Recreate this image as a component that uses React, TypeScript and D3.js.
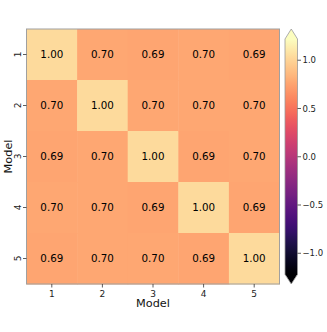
import { useEffect, useRef } from "react";
import * as d3 from "d3";

const models = ["1", "2", "3", "4", "5"];
const row1 = [1.0, 0.7, 0.69, 0.7, 0.69];
const row2 = [0.7, 1.0, 0.7, 0.7, 0.7];
const row3 = [0.69, 0.7, 1.0, 0.69, 0.7];
const row4 = [0.7, 0.7, 0.69, 1.0, 0.69];
const row5 = [0.69, 0.7, 0.7, 0.69, 1.0];
const rows = [row1, row2, row3, row4, row5];
const cbTicks = [-1.0, -0.5, 0.0, 0.5, 1.0];
const vmin = -1.22;
const vmax = 1.22;

const W = 327;
const H = 332;
const FONT = "DejaVu Sans, sans-serif";

const App = () => {
    const ref = useRef<SVGSVGElement>(null);

    useEffect(() => {
        const svg = d3.select(ref.current);
        svg.selectAll("*").remove();

        const left = 26.5, right = 279.5, top = 29, bottom = 284;
        const x = d3.scaleBand().domain(models).range([left, right]);
        const y = d3.scaleBand().domain(models).range([top, bottom]);
        // cells come out a touch lighter than the bar in the reference
        const color = d3.scaleSequential(d3.interpolateMagma).domain([-1.55, 1.21]);
        const fmt = d3.format(".2f");

        const g = svg.append("g");
        rows.forEach((r, i) => {
            r.forEach((v, j) => {
                g.append("rect")
                    .attr("x", x(models[j])!)
                    .attr("y", y(models[i])!)
                    .attr("width", x.bandwidth() + 0.5)
                    .attr("height", y.bandwidth() + 0.5)
                    .attr("fill", color(v));
                g.append("text")
                    .attr("x", x(models[j])! + x.bandwidth() / 2)
                    .attr("y", y(models[i])! + y.bandwidth() / 2)
                    .attr("dy", "0.36em")
                    .attr("text-anchor", "middle")
                    .attr("font-family", FONT)
                    .attr("font-size", 10.3)
                    .attr("fill", "black")
                    .text(fmt(v));
            });
        });
        svg.append("rect")
            .attr("x", left).attr("y", top)
            .attr("width", right - left).attr("height", bottom - top)
            .attr("fill", "none").attr("stroke", "#a0a0a0").attr("stroke-width", 1);

        // x axis
        models.forEach(m => {
            const cx = x(m)! + x.bandwidth() / 2;
            svg.append("line").attr("x1", cx).attr("x2", cx).attr("y1", bottom).attr("y2", bottom + 3.5)
                .attr("stroke", "#333").attr("stroke-width", 0.8);
            svg.append("text").attr("x", cx).attr("y", bottom + 12.5)
                .attr("text-anchor", "middle").attr("font-family", FONT).attr("font-size", 9)
                .attr("fill", "#222").text(m);
            const cy = y(m)! + y.bandwidth() / 2;
            svg.append("line").attr("x1", left - 3.5).attr("x2", left).attr("y1", cy).attr("y2", cy)
                .attr("stroke", "#333").attr("stroke-width", 0.8);
            svg.append("text").attr("transform", `translate(${left - 5.5},${cy}) rotate(-90)`)
                .attr("text-anchor", "middle").attr("font-family", FONT).attr("font-size", 9)
                .attr("fill", "#222").text(m);
        });
        svg.append("text").attr("x", (left + right) / 2).attr("y", bottom + 23)
            .attr("text-anchor", "middle").attr("font-family", FONT).attr("font-size", 11.3)
            .attr("fill", "#111").text("Model");
        svg.append("text").attr("transform", `translate(12,${(top + bottom) / 2}) rotate(-90)`)
            .attr("text-anchor", "middle").attr("font-family", FONT).attr("font-size", 11.3)
            .attr("fill", "#111").text("Model");

        // colorbar
        const cbL = 285, cbR = 297.5, cbTop = 39, cbBot = 274.5;
        const cy = d3.scaleLinear().domain([vmin, vmax]).range([cbBot, cbTop]);
        const defs = svg.append("defs");
        const grad = defs.append("linearGradient").attr("id", "cbgrad")
            .attr("x1", 0).attr("y1", 1).attr("x2", 0).attr("y2", 0);
        d3.range(0, 1.0001, 0.02).forEach(t => {
            grad.append("stop").attr("offset", t).attr("stop-color", d3.interpolateMagma(t));
        });
        const midX = (cbL + cbR) / 2;
        svg.append("rect").attr("x", cbL).attr("y", cbTop).attr("width", cbR - cbL)
            .attr("height", cbBot - cbTop).attr("fill", "url(#cbgrad)");
        svg.append("path").attr("d", `M${cbL},${cbTop + 0.5}L${midX},${top}L${cbR},${cbTop + 0.5}Z`)
            .attr("fill", d3.interpolateMagma(1));
        svg.append("path").attr("d", `M${cbL},${cbBot - 0.5}L${midX},${bottom}L${cbR},${cbBot - 0.5}Z`)
            .attr("fill", d3.interpolateMagma(0));
        svg.append("path")
            .attr("d", `M${cbL},${cbTop}L${midX},${top}L${cbR},${cbTop}L${cbR},${cbBot}L${midX},${bottom}L${cbL},${cbBot}Z`)
            .attr("fill", "none").attr("stroke", "#999").attr("stroke-width", 0.8);
        const tf = (v: number) => d3.format(".1f")(v).replace("-", "\u2212");
        cbTicks.forEach(v => {
            svg.append("line").attr("x1", cbR).attr("x2", cbR + 3.5).attr("y1", cy(v)).attr("y2", cy(v))
                .attr("stroke", "#333").attr("stroke-width", 0.8);
            svg.append("text").attr("x", cbR + 5).attr("y", cy(v)).attr("dy", "0.36em")
                .attr("font-family", FONT).attr("font-size", 8.5).attr("fill", "#222").text(tf(v));
        });
    }, []);

    return (
        <div style={{ position: "absolute", left: 0, top: 0 }}>
            <svg ref={ref} width={W} height={H} style={{ display: "block", background: "white" }} />
        </div>
    );
};

export default App;
